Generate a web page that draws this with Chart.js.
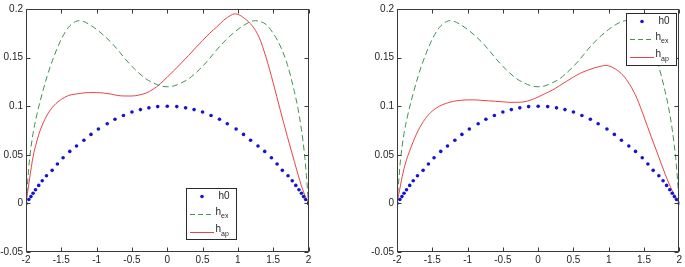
<!DOCTYPE html>
<html>
<head>
<meta charset="utf-8">
<script src="https://cdn.jsdelivr.net/npm/chart.js@4.4.1/dist/chart.umd.min.js"></script>
<style>
  html, body { margin: 0; padding: 0; background: #ffffff; }
  #wrap { position: relative; width: 685px; height: 267px; overflow: hidden; }
  canvas { position: absolute; top: 0; }
</style>
</head>
<body>
<div id="wrap">
  <canvas id="c1" width="320" height="267" style="left:0px;width:320px;height:267px"></canvas>
  <canvas id="c2" width="314" height="267" style="left:371px;width:314px;height:267px"></canvas>
</div>
<script>
// ---------- data ----------
const xTicks = [-2, -1.5, -1, -0.5, 0, 0.5, 1, 1.5, 2];
const yTicks = [-0.05, 0, 0.05, 0.1, 0.15, 0.2];

const seriesNames = ["h0", "h_ex", "h_ap"];

// h0 (dotted, same in both panels)
const h0X = [-2, -1.96, -1.93, -1.9, -1.865, -1.82, -1.77, -1.71, -1.63, -1.555, -1.475, -1.38, -1.285, -1.18, -1.08, -0.975, -0.85, -0.74, -0.62, -0.5, -0.38, -0.26, -0.135,
             0, 0.135, 0.26, 0.38, 0.5, 0.62, 0.74, 0.85, 0.975, 1.08, 1.18, 1.285, 1.38, 1.475, 1.555, 1.63, 1.71, 1.77, 1.82, 1.865, 1.9, 1.93, 1.96, 2];
const h0Y = [0, 0.004, 0.007, 0.0105, 0.014, 0.0185, 0.0233, 0.0285, 0.034, 0.0405, 0.047, 0.0535, 0.059, 0.065, 0.071, 0.0765, 0.082, 0.0865, 0.0905, 0.094, 0.0965, 0.0983, 0.0996,
             0.1, 0.0996, 0.0983, 0.0965, 0.094, 0.0905, 0.0865, 0.082, 0.0765, 0.071, 0.065, 0.059, 0.0535, 0.047, 0.0405, 0.034, 0.0285, 0.0233, 0.0185, 0.014, 0.0105, 0.007, 0.004, 0];

// h_ex (dashed, same in both panels)
const exX = [-2, -1.97, -1.95, -1.9, -1.85, -1.8, -1.7, -1.6, -1.5, -1.4, -1.3, -1.25, -1.2, -1.1, -1, -0.9, -0.8, -0.7, -0.6, -0.5, -0.4, -0.3, -0.2, -0.1,
             0, 0.1, 0.2, 0.3, 0.4, 0.5, 0.6, 0.7, 0.8, 0.9, 1, 1.1, 1.2, 1.25, 1.3, 1.4, 1.5, 1.6, 1.7, 1.8, 1.85, 1.9, 1.95, 1.97, 2];
const exY = [0, 0.028, 0.045, 0.072, 0.09, 0.105, 0.131, 0.152, 0.169, 0.181, 0.187, 0.188, 0.1875, 0.184, 0.179, 0.173, 0.166, 0.158, 0.149, 0.141, 0.134, 0.128, 0.124, 0.121,
             0.12, 0.121, 0.124, 0.128, 0.134, 0.141, 0.149, 0.158, 0.166, 0.173, 0.179, 0.184, 0.1875, 0.188, 0.1875, 0.184, 0.175, 0.162, 0.143, 0.115, 0.098, 0.076, 0.046, 0.029, 0];

// h_ap, left panel
const apLX = [-2, -1.95, -1.9, -1.85, -1.8, -1.7, -1.6, -1.5, -1.4, -1.3, -1.2, -1.1, -1, -0.9, -0.8, -0.7, -0.6, -0.5, -0.4, -0.3, -0.2, -0.1,
              0, 0.1, 0.2, 0.3, 0.4, 0.5, 0.6, 0.7, 0.8, 0.9, 0.95, 1, 1.1, 1.2, 1.3, 1.4, 1.5, 1.6, 1.7, 1.8, 1.9, 1.95, 2];
const apLY = [0, 0.025, 0.048, 0.063, 0.075, 0.091, 0.101, 0.107, 0.111, 0.1125, 0.1135, 0.114, 0.114, 0.1135, 0.1125, 0.111, 0.1105, 0.1105, 0.1115, 0.1135, 0.1175, 0.123,
              0.13, 0.137, 0.1445, 0.152, 0.16, 0.1675, 0.175, 0.1815, 0.1885, 0.1935, 0.195, 0.1945, 0.19, 0.183, 0.171, 0.15, 0.124, 0.096, 0.069, 0.043, 0.018, 0.008, 0];

// h_ap, right panel
const apRX = [-2, -1.9, -1.8, -1.7, -1.6, -1.5, -1.4, -1.3, -1.2, -1.1, -1, -0.9, -0.8, -0.7, -0.6, -0.5, -0.4, -0.3, -0.2, -0.1,
              0, 0.1, 0.2, 0.3, 0.4, 0.5, 0.6, 0.7, 0.8, 0.9, 0.95, 1, 1.1, 1.2, 1.3, 1.4, 1.5, 1.6, 1.7, 1.8, 1.9, 2];
const apRY = [0, 0.036, 0.058, 0.075, 0.087, 0.095, 0.1, 0.103, 0.105, 0.106, 0.1065, 0.1065, 0.106, 0.1055, 0.105, 0.1045, 0.104, 0.104, 0.1045, 0.1065,
              0.1095, 0.113, 0.1165, 0.121, 0.1255, 0.13, 0.134, 0.137, 0.1395, 0.1413, 0.142, 0.1415, 0.138, 0.132, 0.122, 0.108, 0.089, 0.069, 0.0496, 0.03, 0.013, 0];

// ---------- helpers ----------
const zip = (xs, ys) => xs.map((x, i) => ({ x: x, y: ys[i] }));
const FONT = "'Liberation Sans', Arial, sans-serif";
const TXT = '#262626';
const BLUE = '#1414d2';
const GREEN = '#3f9350';
const RED = '#e64448';

const fmt = v => String(Math.round(v * 1000) / 1000);

const framePlugin = {
  id: 'mlFrame',
  afterDraw(chart, args, opts) {
    const ctx = chart.ctx;
    const a = chart.chartArea;
    const xs = chart.scales.x, ys = chart.scales.y;
    const L = Math.round(a.left) + 0.5, R = Math.round(a.right) - 0.5;
    const T = Math.round(a.top) + 0.5, B = Math.round(a.bottom) - 0.5;
    ctx.save();
    ctx.strokeStyle = '#3a3a3a';
    ctx.lineWidth = 1;
    ctx.strokeRect(L, T, R - L, B - T);
    ctx.beginPath();
    const tl = 4;
    xTicks.forEach(v => {
      const p = Math.round(xs.getPixelForValue(v)) + 0.5;
      ctx.moveTo(p, B); ctx.lineTo(p, B - tl);
      ctx.moveTo(p, T); ctx.lineTo(p, T + tl);
    });
    yTicks.forEach(v => {
      const p = Math.round(ys.getPixelForValue(v)) + 0.5;
      ctx.moveTo(L, p); ctx.lineTo(L + tl, p);
      ctx.moveTo(R, p); ctx.lineTo(R - tl, p);
    });
    ctx.stroke();

    // legend box
    const bx = Math.round(a.left + opts.dx) + 0.5;
    const by = Math.round(a.top + opts.dy) + 0.5;
    const bw = opts.w, bh = opts.h;
    ctx.fillStyle = '#ffffff';
    ctx.fillRect(bx, by, bw, bh);
    ctx.strokeStyle = '#2a2a2a';
    ctx.strokeRect(bx, by, bw, bh);
    const rows = [8, 25.5, 43];
    const lx0 = bx + 3.5, lx1 = bx + 27.5;
    ctx.fillStyle = BLUE;
    ctx.beginPath();
    ctx.arc(bx + 15.5, by + rows[0], 1.8, 0, Math.PI * 2);
    ctx.fill();
    ctx.strokeStyle = GREEN;
    ctx.setLineDash([5, 3]);
    ctx.beginPath();
    ctx.moveTo(lx0, Math.round(by + rows[1]) + 0.5);
    ctx.lineTo(lx1, Math.round(by + rows[1]) + 0.5);
    ctx.stroke();
    ctx.setLineDash([]);
    ctx.strokeStyle = RED;
    ctx.beginPath();
    ctx.moveTo(lx0, Math.round(by + rows[2]) + 0.5);
    ctx.lineTo(lx1, Math.round(by + rows[2]) + 0.5);
    ctx.stroke();
    ctx.fillStyle = TXT;
    ctx.textBaseline = 'middle';
    ctx.textAlign = 'left';
    ctx.font = '10px ' + FONT;
    ctx.fillText(seriesNames[0], bx + 32, by + rows[0]);
    const sub = (name, row) => {
      const parts = name.split('_');
      ctx.font = '10px ' + FONT;
      const x0 = bx + 29;
      ctx.fillText(parts[0], x0, by + row - 2);
      const w = ctx.measureText(parts[0]).width;
      ctx.font = '7px ' + FONT;
      ctx.fillText(parts[1], x0 + w, by + row + 2.5);
    };
    sub(seriesNames[1], rows[1]);
    sub(seriesNames[2], rows[2]);
    ctx.restore();
  }
};

function makeChart(id, apX, apY, pad, legend) {
  return new Chart(document.getElementById(id), {
    type: 'line',
    data: {
      datasets: [
        { label: seriesNames[0], data: zip(h0X, h0Y), showLine: false,
          pointRadius: 1.8, pointHoverRadius: 1.8, pointBackgroundColor: BLUE, pointBorderWidth: 0, pointStyle: 'circle' },
        { label: seriesNames[1], data: zip(exX, exY), borderColor: GREEN, borderWidth: 1, borderDash: [6, 3.5],
          pointRadius: 0, cubicInterpolationMode: 'monotone', fill: false },
        { label: seriesNames[2], data: zip(apX, apY), borderColor: RED, borderWidth: 1,
          pointRadius: 0, cubicInterpolationMode: 'monotone', fill: false }
      ]
    },
    options: {
      responsive: false,
      devicePixelRatio: 1,
      animation: false,
      layout: { padding: pad },
      plugins: {
        legend: { display: false },
        tooltip: { enabled: false },
        mlFrame: legend
      },
      scales: {
        x: {
          type: 'linear', min: -2, max: 2,
          afterBuildTicks: s => { s.ticks = xTicks.map(v => ({ value: v })); },
          afterFit: s => { s.height = 15; },
          grid: { display: false, drawTicks: false, tickLength: 0 }, border: { display: false },
          ticks: { padding: 2, maxRotation: 0, autoSkip: false, color: TXT, font: { family: FONT, size: 10 }, callback: v => fmt(v) }
        },
        y: {
          type: 'linear', min: -0.05, max: 0.2,
          afterBuildTicks: s => { s.ticks = yTicks.map(v => ({ value: v })); },
          afterFit: s => { s.width = 26; },
          grid: { display: false, drawTicks: false, tickLength: 0 }, border: { display: false },
          ticks: { padding: 3, autoSkip: false, color: TXT, font: { family: FONT, size: 10 }, callback: v => fmt(v) }
        }
      }
    },
    plugins: [framePlugin]
  });
}

makeChart('c1', apLX, apLY, { left: 0, right: 11.5, top: 9, bottom: 0 }, { dx: 160, dy: 179, w: 50, h: 51 });
makeChart('c2', apRX, apRY, { left: 0, right: 5.7, top: 9, bottom: 0 }, { dx: 229, dy: 4, w: 50, h: 52 });
</script>
</body>
</html>
